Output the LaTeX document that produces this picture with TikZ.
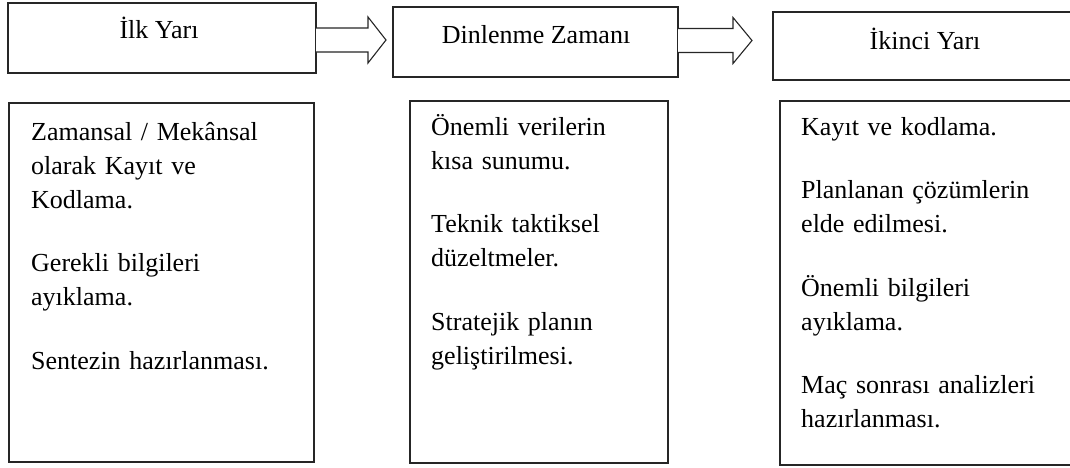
\documentclass[tikz,border=0pt]{standalone}
\usepackage{fontspec}
\setmainfont{Liberation Serif}
\usetikzlibrary{calc}
\tikzset{
  box/.style={draw=black!85, line width=1.1pt, inner sep=0pt, outer sep=0pt},
  head/.style={font=\fontsize{26}{34}\selectfont, anchor=base, inner sep=0pt},
  body/.style={font=\fontsize{26}{34}\selectfont, anchor=base west, inner sep=0pt, align=left, text width=280pt},
  blockarrow/.style={draw=black!85, line width=1.1pt, fill=white, line join=miter}
}
\begin{document}
\begin{tikzpicture}[x=1pt, y=-1pt]
\useasboundingbox (0,0) rectangle (1070,467);
\clip (0,0) rectangle (1070,467);
% header boxes
\node[box, minimum width=308pt, minimum height=70pt] (b1) at (162,38) {};
\node[box, minimum width=285pt, minimum height=70pt] (b2) at (535.5,42) {};
\node[box, minimum width=304pt, minimum height=68pt] (b3) at (925,46) {};
\node[head] (t1) at (159,38) {İlk Yarı};
\node[head] (t2) at (536,43) {Dinlenme Zamanı};
\node[head] (t3) at (925,49) {İkinci Yarı};
% block arrows
\coordinate (a1s) at (b1.east |- 0,40);
\coordinate (a1t) at ($(b2.west |- 0,40)+(-7,0)$);
\draw[blockarrow] ($(a1s)+(0,-12)$) -- ($(a1t)+(-18,-12)$) -- ($(a1t)+(-18,-23)$) -- (a1t)
  -- ($(a1t)+(-18,23)$) -- ($(a1t)+(-18,12)$) -- ($(a1s)+(0,12)$);
\coordinate (a2s) at (b2.east |- 0,40.5);
\coordinate (a2t) at ($(b3.west |- 0,40.5)+(-21,0)$);
\draw[blockarrow] ($(a2s)+(0,-12)$) -- ($(a2t)+(-19,-12)$) -- ($(a2t)+(-19,-23)$) -- (a2t)
  -- ($(a2t)+(-19,23)$) -- ($(a2t)+(-19,12)$) -- ($(a2s)+(0,12)$);
% content boxes
\node[box, minimum width=305pt, minimum height=359pt] (c1) at (161.5,282.5) {};
\node[box, minimum width=258pt, minimum height=362pt] (c2) at (539,282) {};
\node[box, minimum width=298pt, minimum height=364pt] (c3) at (929,283) {};
\node[body] (d1) at (31,140) {Zamansal / Mekânsal\\ olarak Kayıt ve\\ Kodlama.\\[29.5pt] Gerekli bilgileri\\ ayıklama.\\[29.5pt] Sentezin hazırlanması.};
\node[body] (d2) at (431,135) {Önemli verilerin\\ kısa sunumu.\\[29.5pt] Teknik taktiksel\\ düzeltmeler.\\[29.5pt] Stratejik planın\\ geliştirilmesi.};
\node[body] (d3) at (801,135) {Kayıt ve kodlama.\\[29.5pt] Planlanan çözümlerin\\ elde edilmesi.\\[29.5pt] Önemli bilgileri\\ ayıklama.\\[29.5pt] Maç sonrası analizleri\\ hazırlanması.};
\end{tikzpicture}
\end{document}
